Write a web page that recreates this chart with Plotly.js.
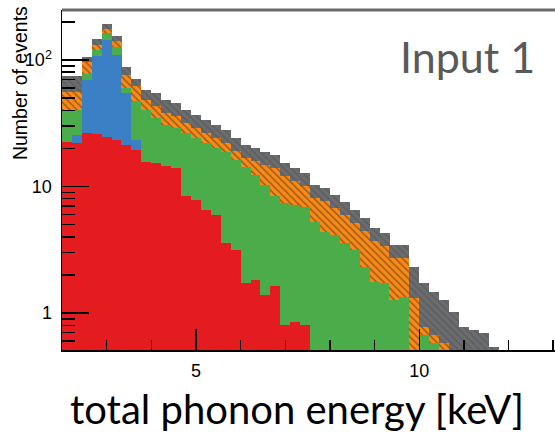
<!DOCTYPE html>
<html>
<head>
<meta charset="utf-8">
<script src="https://cdn.plot.ly/plotly-3.0.1.min.js"></script>
<style>
  html, body { margin: 0; padding: 0; background: #fff; }
  #chart { width: 555px; height: 437px; }
</style>
</head>
<body>
<div id="chart"></div>
<script>
// Bin centres of the histogram (keV)
const binCenters = [2.111, 2.333, 2.556, 2.778, 3.000, 3.222, 3.444, 3.667, 3.889, 4.111,
                    4.333, 4.556, 4.778, 5.000, 5.222, 5.444, 5.667, 5.889, 6.111, 6.333,
                    6.556, 6.778, 7.000, 7.222, 7.444, 7.667, 7.889, 8.111, 8.333, 8.556,
                    8.778, 9.000, 9.222, 9.444, 9.667, 9.889, 10.111, 10.333, 10.556, 10.778,
                    11.000, 11.222, 11.444, 11.667];

// Stacked components (events per bin), bottom to top
const redCounts = [22.5, 22.1, 26.5, 26.0, 24.6, 23.3, 21.3, 19.4, 15.6, 15.3,
                   14.5, 14.0, 8.4, 7.8, 6.5, 5.95, 3.6, 3.15, 1.73, 1.82,
                   1.39, 1.63, 0.80, 0.85, 0.80, 0, 0, 0, 0, 0,
                   0, 0, 0, 0, 0, 0, 0, 0, 0, 0,
                   0, 0, 0, 0];
const blueCounts = [0, 3.4, 43.0, 81.6, 119.3, 86.3, 33.5, 3.9, 0, 0,
                    0, 0, 0, 0, 0, 0, 0, 0, 0, 0,
                    0, 0, 0, 0, 0, 0, 0, 0, 0, 0,
                    0, 0, 0, 0, 0, 0, 0, 0, 0, 0,
                    0, 0, 0, 0];
const greenCounts = [17.8, 14.8, 8.0, 12.4, 19.5, 17.1, 5.3, 24.1, 24.7, 19.5,
                     16.1, 15.0, 18.1, 16.4, 15.6, 14.25, 15.1, 13.05, 12.57, 10.48,
                     8.91, 6.77, 6.6, 6.25, 6.1, 5.2, 4.4, 4.1, 3.6, 3.15,
                     2.31, 1.76, 1.73, 1.27, 1.34, 0.3, 0.67, 0.58, 0, 0,
                     0, 0, 0, 0];
const orangeCounts = [15.5, 15.5, 18.9, 11.4, 12.4, 14.6, 16.0, 14.9, 8.0, 8.5,
                      7.5, 7.1, 5.3, 4.8, 4.4, 4.0, 3.4, 2.9, 2.5, 3.6,
                      4.5, 5.6, 4.7, 4.0, 3.2, 2.9, 3.3, 2.7, 2.35, 1.95,
                      2.14, 1.94, 1.67, 1.45, 1.38, 1.01, 0.105, 0.09, 0.58, 0,
                      0, 0, 0, 0];
const greyCounts = [18.9, 18.9, 9.2, 15.2, 16.8, 13.5, 12.0, 8.5, 9.6, 11.5,
                    10.2, 9.6, 8.5, 7.8, 7.1, 6.4, 5.9, 5.1, 4.5, 4.3,
                    3.9, 3.7, 3.2, 2.9, 2.7, 2.2, 2.0, 1.8, 1.55, 1.4,
                    1.15, 1.0, 0.9, 0.73, 0.73, 1.0, 0.955, 0.8, 0.69, 1.02,
                    0.775, 0.73, 0.695, 0.54];

// Axis tick values / labels
const xMajorTicks = [5, 10];
const yMajorTicks = [1, 10, 100];
const yMajorLabels = ['1', '10', '10<sup>2</sup>'];
const yMinorTicks = [0.6, 0.7, 0.8, 0.9, 2, 3, 4, 5, 6, 7, 8, 9,
                     20, 30, 40, 50, 60, 70, 80, 90, 200];

function bar(y, color, pattern) {
  const t = {
    type: 'bar', x: binCenters, y: y,
    width: 0.2238,
    marker: { color: color, line: { width: 0 } },
    hoverinfo: 'skip'
  };
  if (pattern) t.marker.pattern = pattern;
  return t;
}

const data = [
  bar(redCounts, '#e41b1f'),
  bar(blueCounts, '#3b7fc4'),
  bar(greenCounts, '#4aad4a'),
  bar(orangeCounts, '#fb8a15', { shape: '\\', fgcolor: '#3a2b1e', bgcolor: '#fb8a15', size: 5, solidity: 0.3, fillmode: 'overlay' }),
  bar(greyCounts, '#6c6c6c', { shape: '\\', fgcolor: '#46505c', bgcolor: '#6c6c6c', size: 5, solidity: 0.3, fillmode: 'overlay' })
];

const tickFont = { family: 'Liberation Sans, Arial, sans-serif', size: 18, color: '#000' };

const layout = {
  width: 555, height: 437,
  margin: { l: 62, r: 0, t: 10, b: 87 },
  paper_bgcolor: '#fff', plot_bgcolor: '#fff',
  barmode: 'stack', bargap: 0,
  showlegend: false,
  hovermode: false,
  xaxis: {
    range: [2, 13.04],
    tickmode: 'array', tickvals: xMajorTicks,
    ticks: 'inside', ticklen: 21, tickwidth: 1.5, tickcolor: '#000',
    showline: true, linecolor: '#000', linewidth: 1.5,
    showgrid: false, zeroline: false,
    tickfont: tickFont,
    ticklabelstandoff: 4,
    minor: { tickmode: 'linear', tick0: 0, dtick: 1, ticks: 'inside', ticklen: 10, tickwidth: 1.5, tickcolor: '#000', showgrid: false },
    automargin: false
  },
  yaxis: {
    type: 'log',
    range: [-0.2925, 2.395],
    tickmode: 'array', tickvals: yMajorTicks, ticktext: yMajorLabels,
    ticks: 'inside', ticklen: 27, tickwidth: 1.5, tickcolor: '#000',
    showline: true, linecolor: '#000', linewidth: 1.5,
    showgrid: false, zeroline: false,
    tickfont: tickFont,
    ticklabelstandoff: 5,
    minor: { tickmode: 'array', tickvals: yMinorTicks, ticks: 'inside', ticklen: 13, tickwidth: 1.5, tickcolor: '#000', showgrid: false },
    automargin: false
  },
  shapes: [
    { type: 'line', xref: 'paper', yref: 'paper', x0: 0, x1: 1, y0: 1, y1: 1,
      line: { color: '#6a6a6a', width: 3 } }
  ],
  annotations: [
    { text: 'total phonon energy [keV]', xref: 'paper', yref: 'paper', x: 0.4767, y: -0.1735,
      xanchor: 'center', yanchor: 'middle', showarrow: false,
      font: { family: 'Lato, Open Sans, sans-serif', size: 40, color: '#000' } },
    { text: 'Number of events', xref: 'paper', yref: 'paper', x: -0.0852, y: 0.785,
      xanchor: 'center', yanchor: 'middle', textangle: -90, showarrow: false,
      font: { family: 'Liberation Sans, Arial, sans-serif', size: 19.5, color: '#000' } },
    { text: 'Input 1', xref: 'paper', yref: 'paper', x: 0.8235, y: 0.862,
      xanchor: 'center', yanchor: 'middle', showarrow: false,
      font: { family: 'Lato, Open Sans, sans-serif', size: 43, color: '#595959' } }
  ]
};

Plotly.newPlot('chart', data, layout, { staticPlot: true, displayModeBar: false });
</script>
</body>
</html>
